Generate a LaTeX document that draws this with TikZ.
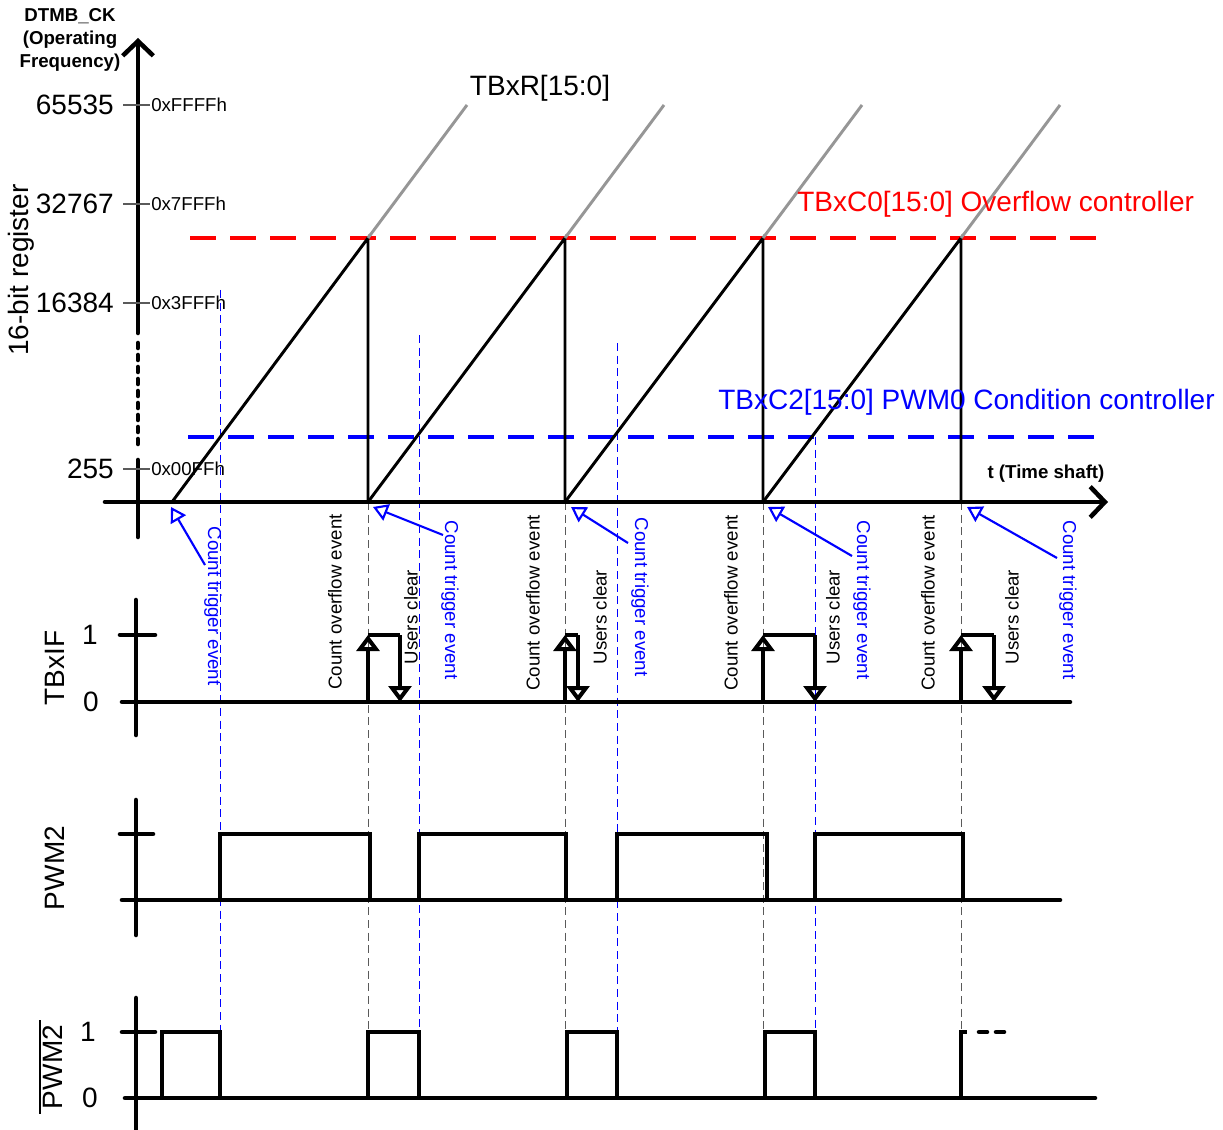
\documentclass[tikz,border=0pt]{standalone}
\usepackage{fontspec}
\setmainfont{Liberation Sans}
\usetikzlibrary{arrows.meta,positioning,calc}
\definecolor{szurke}{RGB}{150,150,150}
\definecolor{sotet}{RGB}{90,90,90}
\tikzset{
  nagy/.style={font=\fontsize{21}{24}\selectfont},
  kis/.style={font=\fontsize{14}{17}\selectfont},
  vastag/.style={font=\fontsize{14}{17}\selectfont\bfseries},
  tengely/.style={line width=3.4pt,line cap=round},
  jel/.style={line width=3.4pt},
  fur/.style={line width=2.2pt},
  oszt/.style={line width=0.8pt,draw=sotet},
  hatar/.style={line width=2.6pt,dash pattern=on 19.5pt off 10.5pt},
  seged/.style={line width=0.7pt,dash pattern=on 6pt off 3.5pt},
  nyil/.style={-{Straight Barb[length=11pt,width=23pt]}},
  kek/.style={-{Triangle[open,length=11pt,width=13pt]},draw=blue,line width=1.6pt},
  fel/.style={-{Triangle[open,length=12pt,width=17pt]}},
}

\begin{document}
\begin{tikzpicture}[x=0.75pt,y=-0.75pt,nagy]
  \useasboundingbox (0,0) rectangle (1223,1130);
  \foreach \x/\y in {220/290,419/335,617/343,815/437}
    \draw[seged,blue] (\x,\y) -- (\x,1098);
  \foreach \x in {368,565,763,961}
    \draw[seged,sotet] (\x,502) -- (\x,1032);
  \draw[hatar,red] (190,238) -- (1100,238);
  \draw[hatar,blue] (188,437) -- (1100,437);

  \foreach \a/\b in {172/368,368/565,565/763,763/961} {
    \draw[fur] (\a,502) -- (\b,238) -- (\b,502);
    \draw[fur,szurke] (\b,238) -- ++(99,-133);
  }

  \draw[tengely] (138,537) -- (138,460);
  \foreach \y in {343,355,...,450}
    \draw[tengely] (138,\y) -- (138,\y+5);
  \draw[tengely,nyil] (138,333) -- (138,38);
  \draw[tengely,nyil] (105,502) -- (1108,502);
  \foreach \y/\d/\h in {105/65535/FFFF,204/32767/7FFF,303/16384/3FFF,469/255/00FF} {
    \draw[oszt] (123,\y) -- (150,\y);
    \node[anchor=east,inner sep=0pt] (n\d) at (114,\y) {\d};
    \node[kis,anchor=west,inner sep=0pt] (h\d) at (151,\y) {0x\h{}h};
  }
  \node[rotate=90] (reg) at (21,270) {16-bit register};
  \node[vastag,align=center] (ck) at (70,40) {DTMB\_CK\\(Operating\\Frequency)};
  \node[vastag] (ido) at (1046,474) {t (Time shaft)};
  \node (tbxr) at (540,88) {TBxR[15:0]};
  \node[red,anchor=west,inner sep=0pt] (c0) at (797,204) {TBxC0[15:0] Overflow controller};
  \node[blue,anchor=west,inner sep=0pt] (c2) at (718,402) {TBxC2[15:0] PWM0 Condition controller};

  \foreach \x/\y [count=\i] in {335/602,533/603,731/603,928/603}
    \node[kis,rotate=90] (ov\i) at (\x,\y) {Count overflow event};
  \foreach \x [count=\i] in {411,600,833,1012}
    \node[kis,rotate=90] (uc\i) at (\x,617) {Users clear};
  \foreach \x/\y [count=\i] in {213/606,450/600,640/597,862/600,1068/600}
    \node[kis,rotate=-90,blue] (ct\i) at (\x,\y) {Count trigger event};
  \foreach \i/\tx/\ty/\hx in {1/205/565/171,2/443/535/373,3/628/543/571,4/852/556/768,5/1057/558/967} {
    \coordinate (k\i) at (\tx,\ty);
    \coordinate (s\i) at (\hx,507);
    \draw[kek] (k\i) -- (s\i);
  }

  \draw[tengely] (136,600) -- (136,735);
  \draw[tengely] (120,635) -- (155,635);
  \draw[tengely] (122,702) -- (1070,702);
  \foreach \a/\b in {368/400,565/578,763/815,961/994} {
    \draw[jel,fel] (\a,702) -- (\a,635);
    \draw[jel] (\a,635) -- (\b,635);
    \draw[jel,fel] (\b,635) -- (\b,702);
  }
  \node[rotate=90] (tbxif) at (55,668) {TBxIF};
  \node (if1) at (90,635) {1};
  \node (if0) at (91,702) {0};

  \draw[tengely] (136,800) -- (136,935);
  \draw[tengely] (120,834) -- (153,834);
  \draw[tengely] (122,900) -- (1060,900);
  \foreach \a/\b in {220/370,419/566,617/767,815/963}
    \draw[jel] (\a,900) -- (\a,834) -- (\b,834) -- (\b,900);
  \node[rotate=90] (pwm) at (55,868) {PWM2};

  \draw[tengely] (136,998) -- (136,1135);
  \draw[tengely] (122,1032) -- (155,1032);
  \draw[tengely] (125,1098) -- (1095,1098);
  \foreach \a/\b in {162/220,368/419,567/617,765/815}
    \draw[jel] (\a,1098) -- (\a,1032) -- (\b,1032) -- (\b,1098);
  \draw[jel] (961,1098) -- (961,1032) -- (967,1032);
  \draw[tengely,dash pattern=on 6pt off 6.75pt] (979,1032) -- (1005,1032);
  \node[rotate=90] (npwm) at (53,1067) {PWM2};
  \draw[line width=1.1pt] ([xshift=1pt]npwm.north west) -- ([xshift=1pt]npwm.north east);
  \node (nb1) at (88,1032) {1};
  \node (nb0) at (90,1098) {0};
\end{tikzpicture}
\end{document}
